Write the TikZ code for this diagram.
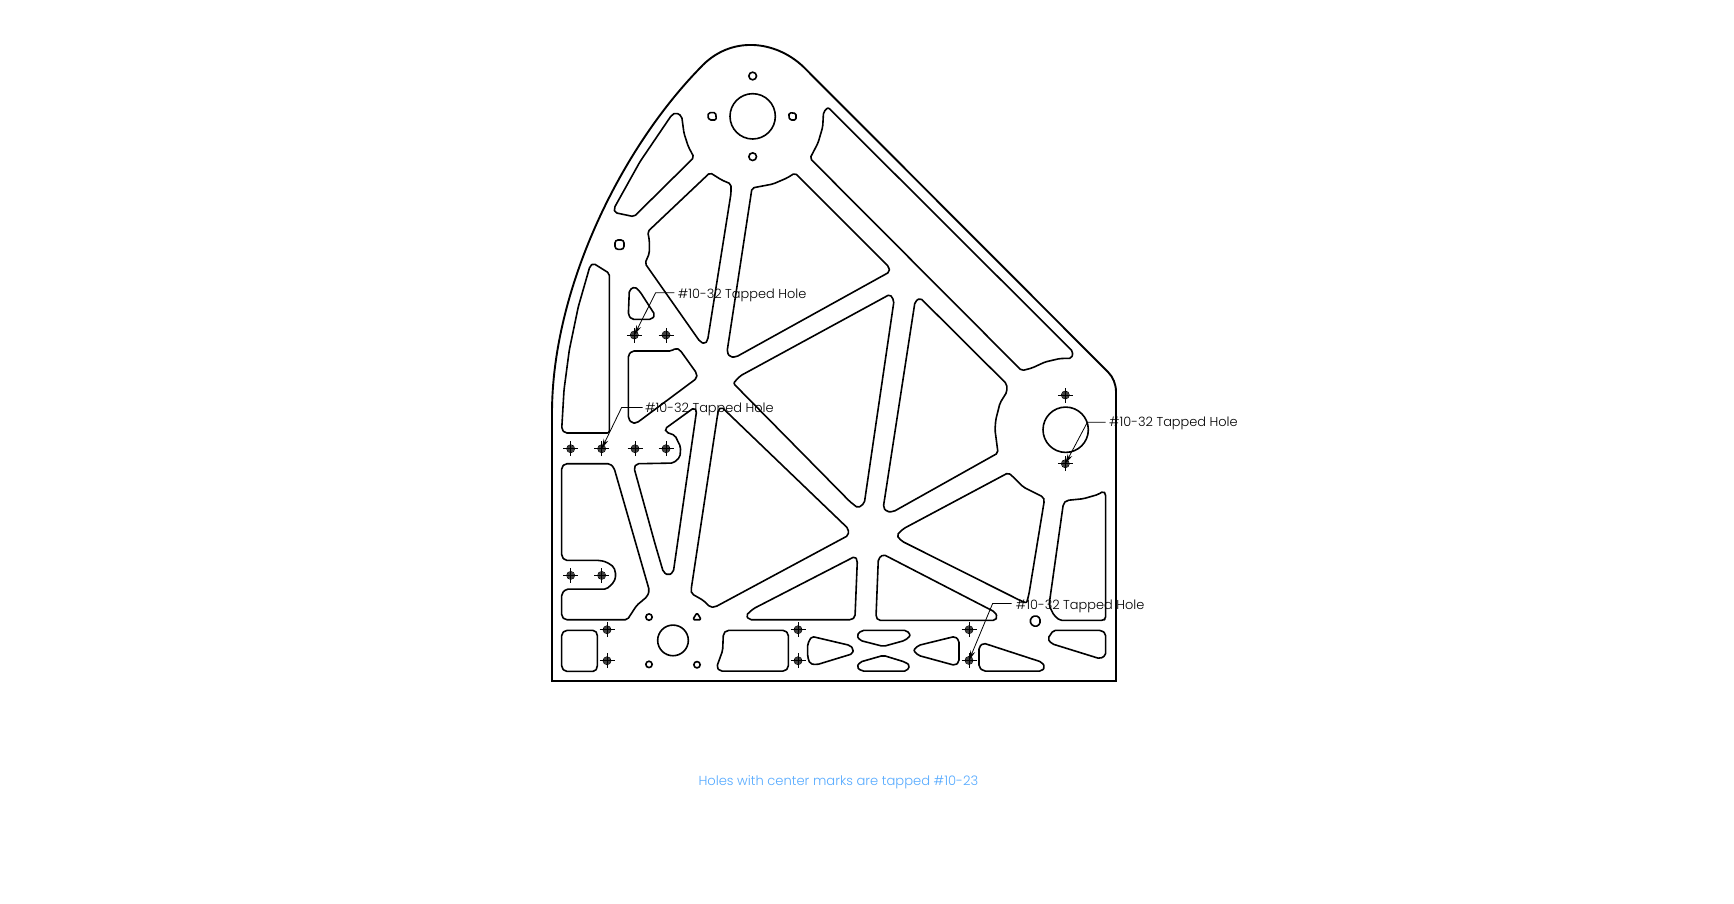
\documentclass[tikz,border=0pt]{standalone}
\usepackage{fontspec}
\setmainfont{Poppins}[UprightFont=* Light]
\usetikzlibrary{arrows.meta}
\definecolor{notecol}{HTML}{55AAFF}
\tikzset{
 zA/.style={xshift=540pt,yshift=-30pt,x=0.33333pt,y=-0.33333pt},
 zB/.style={xshift=540pt,yshift=-350.4pt,x=0.33333pt,y=-0.33333pt},
 zC/.style={xshift=850pt,yshift=-30pt,x=0.33333pt,y=-0.33333pt},
 zD/.style={xshift=850pt,yshift=-420.4pt,x=0.33333pt,y=-0.33333pt},
 outline/.style={draw=black,line width=1.9pt,line join=miter},
 pocket/.style={draw=black,line width=1.6pt,rounded corners=2pt,line join=round},
 hole/.style={draw=black,line width=1.6pt},
 mk/.pic={\fill[black!75] (0,0) circle (3.6pt);
   \draw[black,line width=0.7pt] (0,0) circle (4pt);
   \draw[black,line width=0.8pt] (-7.5pt,0)--(7.5pt,0) (0,-7.5pt)--(0,7.5pt);},
 taplabel/.style={anchor=west,font=\fontsize{12.9pt}{15pt}\selectfont,inner sep=0pt,text=black},
 leader/.style={draw=black,line width=0.8pt,-{Stealth[length=10pt,width=5pt]}},
}
\begin{document}
\begin{tikzpicture}[x=1pt,y=-1pt]
\useasboundingbox (0,0) rectangle (1734,903);
\fill[white] (0,0) rectangle (1734,903);
% outer outline
\draw[outline] (552,681) -- (1116,681) -- (1116,392) .. controls (1116,384) and (1113,377) .. (1108,372) -- (803.3,66.7) .. controls (775,40) and (730,35) .. (700,68) .. controls (620,150) and (552,290) .. (552,413) -- cycle;
% pockets spanning crops, in image pixels
\draw[pocket] (752,188) -- (773,184) -- (787,178) -- (795,173) -- (889,267) -- (889.5,272) -- (736,357) -- (730,357) -- (727,352) -- cycle;
\draw[pocket] (828,107.3) -- (823.5,112) -- (822.7,127) -- (818,143) -- (810,158.3) -- (1021.7,370.7) -- (1032,368) -- (1045,362) -- (1060,358.5) -- (1071.7,358.3) -- (1073,351.7) -- cycle;
\draw[pocket] (890,294.3) -- (894,300.7) -- (864.3,503.3) -- (858,508) -- (850,501.7) -- (733.3,383.3) -- (740,376) -- cycle;
\draw[pocket] (915,301.7) -- (920,298) -- (923,300.7) -- (1006.7,384) -- (1007,391.7) -- (1000,403) -- (995.7,420) -- (995,430) -- (996.7,443) -- (998,453) -- (893.3,511.7) -- (886.7,511.7) -- (883.3,507.3) -- cycle;
\draw[pocket] (609.3,273.3) -- (593.3,263.3) -- (590,266) -- (578.3,306.7) -- (569.3,350) -- (564,390) -- (561.7,429.3) -- (565,433) -- (609.3,433) -- cycle;
\draw[pocket] (632,351) -- (671.5,351) -- (676,348) -- (680,350) -- (696.7,373.3) -- (696.7,378.3) -- (636.7,423) -- (631.7,423) -- (628.3,418.3) -- (628.3,355) -- cycle;
% crop 1 coordinates
\begin{scope}[zA]
\draw[pocket] (408,248) -- (425,258) -- (432,310) -- (445,350) -- (462,382) -- (282,560) -- (225,548) -- (222,535) -- (300,395) -- (395,255) -- cycle;
\draw[pocket] (510,428) -- (545,450) -- (573,462) -- (573,490) -- (503,930) -- (495,942) -- (480,935) -- (315,700) -- (328,670) -- (328,630) -- (323,605) -- cycle;
\draw[pocket] (285,770) -- (268,780) -- (265,855) -- (275,868) -- (335,868) -- (345,855) -- (300,785) -- cycle;
\draw[hole] (638,259) circle (68);
\draw[hole] (638,138) circle (11.5);
\draw[pocket,rounded corners=1.5pt] (506,248) -- (527,248) -- (529,270) -- (508,270) -- (503,259) -- cycle;
\draw[pocket,rounded corners=1.5pt] (748,248) -- (768,250) -- (768,270) -- (750,270) -- (746,259) -- cycle;
\draw[hole] (638,380) circle (11.5);
\draw[hole,rounded corners=3pt] (225,630) rectangle (252,658);
\coordinate (m1) at (283,915);
\coordinate (m2) at (378,915);
\coordinate (s1) at (403,788);
\coordinate (e1) at (347,788);
\node[taplabel] (lab1) at (413,796) {\#10-32 Tapped Hole};
\end{scope}
% crop 2 coordinates
\begin{scope}[zB]
\draw[pocket] (945,618) -- (952,630) -- (945,800) -- (935,808) -- (628,808) -- (618,795) -- (640,775) -- cycle;
\draw[pocket] (535,178) -- (545,170) -- (925,535) -- (925,555) -- (525,770) -- (510,770) -- (490,750) -- (455,730) -- (453,720) -- cycle;
\draw[pocket] (462,172) -- (375,235) -- (378,245) -- (405,255) -- (422,290) -- (420,320) -- (400,338) -- (290,340) -- (282,352) -- (345,580) -- (370,665) -- (385,675) -- (400,665) -- (470,180) -- cycle;
\draw[pocket] (75,340) -- (210,340) -- (222,352) -- (328,720) -- (322,738) -- (290,765) -- (262,808) -- (75,808) -- (65,798) -- (65,730) -- (78,716) -- (200,716) -- (222,695) -- (228,675) -- (222,650) -- (200,635) -- (180,630) -- (75,630) -- (65,618) -- (65,350) -- cycle;
\draw[pocket] (75,840) -- (165,840) -- (172,850) -- (172,952) -- (165,963) -- (75,963) -- (65,952) -- (65,850) -- cycle;
\draw[pocket] (560,840) -- (735,840) -- (745,850) -- (745,952) -- (735,962) -- (540,962) -- (530,950) -- (548,900) -- (550,850) -- cycle;
\draw[pocket] (815,858) -- (930,885) -- (940,895) -- (938,910) -- (830,943) -- (810,940) -- (803,920) -- (803,880) -- cycle;
\draw[hole] (399,870) circle (46);
\draw[hole] (327,800) circle (9.5);
\draw[pocket,rounded corners=1.5pt] (471,787) -- (484,808) -- (458,808) -- cycle;
\draw[hole] (327,942) circle (9.5);
\draw[hole] (471,943) circle (9.5);
\coordinate (m3) at (92,295);
\coordinate (m4) at (185,295);
\coordinate (m5) at (285,295);
\coordinate (m6) at (378,295);
\coordinate (m7) at (92,675);
\coordinate (m8) at (185,675);
\coordinate (m9) at (201,838);
\coordinate (m10) at (201,931);
\coordinate (m11) at (774,838);
\coordinate (m12) at (774,931);
\coordinate (s2) at (308,171);
\coordinate (e2) at (245,171);
\node[taplabel] (lab2) at (315,177) {\#10-32 Tapped Hole};
\end{scope}
% crop 3 coordinates
\begin{scope}[zC]
\coordinate (m13) at (646,1095);
\coordinate (s3) at (767,1177);
\coordinate (e3) at (712,1177);
\node[taplabel] (lab3) at (777,1181) {\#10-32 Tapped Hole};
\end{scope}
% crop 4 coordinates
\begin{scope}[zD]
\draw[pocket] (140,345) -- (160,325) -- (475,157) -- (490,170) -- (520,200) -- (580,230) -- (583,240) -- (537,520) -- (530,548) -- (510,540) -- (155,362) -- cycle;
\draw[pocket] (650,240) -- (700,235) -- (745,222) -- (760,212) -- (767,220) -- (767,595) -- (760,600) -- (630,600) -- (612,585) -- (597,555) -- (640,250) -- cycle;
\draw[pocket] (100,402) -- (85,415) -- (78,590) -- (85,600) -- (435,600) -- (442,590) -- (435,575) -- cycle;
\draw[pocket] (35,630) -- (170,630) -- (182,645) -- (165,660) -- (100,678) -- (30,660) -- (20,645) -- cycle;
\draw[pocket] (100,705) -- (165,725) -- (180,735) -- (170,752) -- (35,752) -- (20,740) -- (30,725) -- cycle;
\draw[pocket] (315,648) -- (327,660) -- (327,725) -- (315,735) -- (205,705) -- (190,690) -- (205,675) -- cycle;
\draw[pocket] (400,668) -- (575,725) -- (585,740) -- (575,752) -- (400,752) -- (387,740) -- (387,680) -- cycle;
\draw[pocket] (610,630) -- (755,630) -- (767,640) -- (767,705) -- (750,715) -- (605,670) -- (593,655) -- cycle;
\draw[pocket,rounded corners=1.5pt] (548,587) -- (565,587) -- (572,602) -- (565,617) -- (548,617) -- (539,602) -- cycle;
\draw[hole] (647,28) circle (68);
\coordinate (m14) at (646,130);
\coordinate (m15) at (357,628);
\coordinate (m16) at (357,720);
\coordinate (s4) at (485,549);
\coordinate (e4) at (428,549);
\node[taplabel] (lab4) at (497,557) {\#10-32 Tapped Hole};
\end{scope}
% center marks
\foreach \m in {m1,m2,m3,m4,m5,m6,m7,m8,m9,m10,m11,m12,m13,m14,m15,m16}
  \pic at (\m) {mk};
% leaders
\draw[leader] (s1) -- (e1) -- (m1);
\draw[leader] (s2) -- (e2) -- (m4);
\draw[leader] (s3) -- (e3) -- (m14);
\draw[leader] (s4) -- (e4) -- (m16);
% note
\node[anchor=west,inner sep=0pt,text=notecol,font=\fontsize{13.1pt}{15pt}\selectfont] (note) at (698.3,782) {Holes with center marks are tapped \#10-23};
\end{tikzpicture}
\end{document}
